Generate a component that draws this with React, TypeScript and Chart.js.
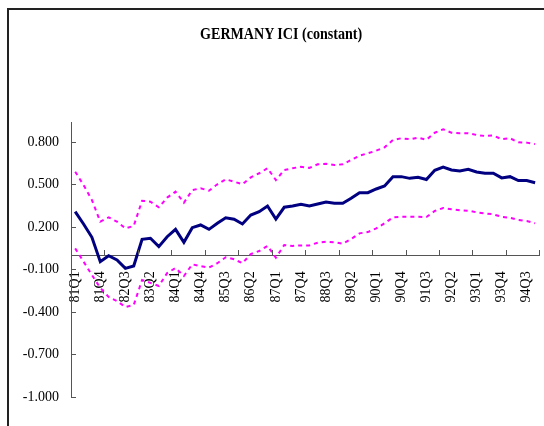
import { useEffect, useRef } from "react";
import { Chart, registerables } from "chart.js";

Chart.register(...registerables);

const title = "GERMANY ICI (constant)";

const categories = [
  "81Q1", "81Q2", "81Q3", "81Q4", "82Q1", "82Q2", "82Q3", "82Q4",
  "83Q1", "83Q2", "83Q3", "83Q4", "84Q1", "84Q2", "84Q3", "84Q4",
  "85Q1", "85Q2", "85Q3", "85Q4", "86Q1", "86Q2", "86Q3", "86Q4",
  "87Q1", "87Q2", "87Q3", "87Q4", "88Q1", "88Q2", "88Q3", "88Q4",
  "89Q1", "89Q2", "89Q3", "89Q4", "90Q1", "90Q2", "90Q3", "90Q4",
  "91Q1", "91Q2", "91Q3", "91Q4", "92Q1", "92Q2", "92Q3", "92Q4",
  "93Q1", "93Q2", "93Q3", "93Q4", "94Q1", "94Q2", "94Q3", "94Q4",
];

const yTickValues = [-1, -0.7, -0.4, -0.1, 0.2, 0.5, 0.8];

const central = [
  0.308, 0.221, 0.127, -0.045, -0.003, -0.033, -0.092, -0.075,
  0.113, 0.12, 0.061, 0.131, 0.183, 0.092, 0.195, 0.214,
  0.183, 0.226, 0.265, 0.254, 0.221, 0.284, 0.308, 0.348,
  0.256, 0.339, 0.348, 0.36, 0.348, 0.362, 0.376, 0.368,
  0.367, 0.402, 0.442, 0.442, 0.468, 0.489, 0.555, 0.555,
  0.543, 0.55, 0.535, 0.6, 0.623, 0.602, 0.595, 0.607,
  0.588, 0.579, 0.579, 0.546, 0.555, 0.527, 0.527, 0.512,
];

const upperBand = [
  0.59, 0.496, 0.39, 0.237, 0.268, 0.237, 0.19, 0.207,
  0.385, 0.378, 0.339, 0.407, 0.449, 0.371, 0.46, 0.473,
  0.456, 0.501, 0.536, 0.52, 0.501, 0.55, 0.579, 0.614,
  0.531, 0.602, 0.614, 0.625, 0.617, 0.642, 0.646, 0.637,
  0.642, 0.673, 0.703, 0.72, 0.738, 0.762, 0.814, 0.826,
  0.819, 0.83, 0.815, 0.865, 0.889, 0.865, 0.861, 0.861,
  0.849, 0.842, 0.845, 0.819, 0.826, 0.797, 0.795, 0.785,
];

const lowerBand = [
  0.049, -0.045, -0.139, -0.23, -0.294, -0.323, -0.365, -0.351,
  -0.174, -0.195, -0.217, -0.125, -0.09, -0.146, -0.064, -0.076,
  -0.087, -0.056, -0.014, -0.028, -0.056, 0.009, 0.03, 0.066,
  -0.017, 0.073, 0.066, 0.07, 0.07, 0.089, 0.096, 0.092,
  0.082, 0.115, 0.155, 0.164, 0.19, 0.226, 0.268, 0.272,
  0.272, 0.272, 0.27, 0.313, 0.334, 0.325, 0.318, 0.315,
  0.303, 0.296, 0.289, 0.272, 0.265, 0.249, 0.242, 0.226,
];

const AXIS_COLOR = "#555555";
const FONT = "'Liberation Serif', 'Times New Roman', serif";

export default function App() {
  const canvasRef = useRef<HTMLCanvasElement>(null);

  useEffect(() => {
    const canvas = canvasRef.current;
    if (!canvas) return;

    const insideTicks = {
      id: "insideTicks",
      afterDraw(chart: any) {
        const { ctx, scales, chartArea } = chart;
        const xs = scales.x;
        const ys = scales.y;
        const y0 = Math.round(ys.getPixelForValue(0));
        ctx.save();
        ctx.strokeStyle = AXIS_COLOR;
        ctx.lineWidth = 1;
        ctx.beginPath();
        for (let i = 0; i <= categories.length; i += 4) {
          const px = Math.round(xs.getPixelForValue(i - 0.5)) + 0.5;
          ctx.moveTo(px, y0 - 5);
          ctx.lineTo(px, y0);
        }
        for (const v of yTickValues) {
          const py = Math.round(ys.getPixelForValue(v)) + 0.5;
          ctx.moveTo(chartArea.left, py);
          ctx.lineTo(chartArea.left + 5, py);
        }
        ctx.stroke();
        ctx.restore();
      },
    };

    const chart = new Chart(canvas, {
      type: "line",
      data: {
        labels: categories,
        datasets: [
          {
            label: "upper",
            data: upperBand,
            borderColor: "#FF00FF",
            borderWidth: 2,
            borderDash: [4, 4],
            pointRadius: 0,
            tension: 0,
            fill: false,
          },
          {
            label: "ICI",
            data: central,
            borderColor: "#000080",
            borderWidth: 3,
            pointRadius: 0,
            tension: 0,
            fill: false,
          },
          {
            label: "lower",
            data: lowerBand,
            borderColor: "#FF00FF",
            borderWidth: 2,
            borderDash: [4, 4],
            pointRadius: 0,
            tension: 0,
            fill: false,
          },
        ],
      },
      options: {
        responsive: false,
        animation: false,
        layout: { padding: { top: 122.8, left: 0, right: 4.7, bottom: 29 } },
        plugins: {
          legend: { display: false },
          title: { display: false },
          tooltip: { enabled: false },
        },
        scales: {
          x: {
            type: "category",
            offset: true,
            position: { y: 0 } as any,
            grid: { display: false, drawTicks: true, tickLength: 16, offset: true },
            border: { display: true, color: AXIS_COLOR, width: 1 },
            ticks: {
              autoSkip: false,
              maxRotation: 90,
              minRotation: 90,
              padding: 0,
              color: "#000",
              font: { family: FONT, size: 14 },
              callback: (_v: any, idx: number) => (idx % 3 === 0 ? categories[idx] : ""),
            },
            afterFit: (s: any) => {
              s.height = 0;
              s.paddingLeft = 0;
              s.paddingRight = 0;
            },
          },
          y: {
            type: "linear",
            position: "left",
            min: -1,
            max: 0.935,
            grid: { display: false, drawTicks: false },
            border: { display: true, color: AXIS_COLOR, width: 1 },
            afterBuildTicks: (s: any) => {
              s.ticks = yTickValues.map((v) => ({ value: v }));
            },
            ticks: {
              padding: 12,
              color: "#000",
              font: { family: FONT, size: 14 },
              callback: (v: any) => Number(v).toFixed(3),
            },
            afterFit: (s: any) => {
              s.width = 71;
              s.paddingTop = 0;
              s.paddingBottom = 0;
            },
          },
        },
      },
      plugins: [insideTicks],
    });

    return () => chart.destroy();
  }, []);

  return (
    <>
      <canvas
        ref={canvasRef}
        width={544}
        height={426}
        style={{ position: "fixed", left: 0, top: 0, width: 544, height: 426 }}
      />
      <div
        style={{
          position: "fixed",
          left: 7,
          top: 8,
          width: 537,
          height: 418,
          boxSizing: "border-box",
          borderLeft: "2px solid #222",
          borderTop: "2px solid #222",
          pointerEvents: "none",
        }}
      />
      <div
        style={{
          position: "fixed",
          left: 0,
          top: 26,
          width: 562,
          textAlign: "center",
          fontFamily: FONT,
          fontWeight: "bold",
          fontSize: 16,
          lineHeight: "16px",
          color: "#000",
          whiteSpace: "nowrap",
        }}
      >
        <span style={{ display: "inline-block", transform: "scaleX(0.88)" }}>{title}</span>
      </div>
    </>
  );
}
